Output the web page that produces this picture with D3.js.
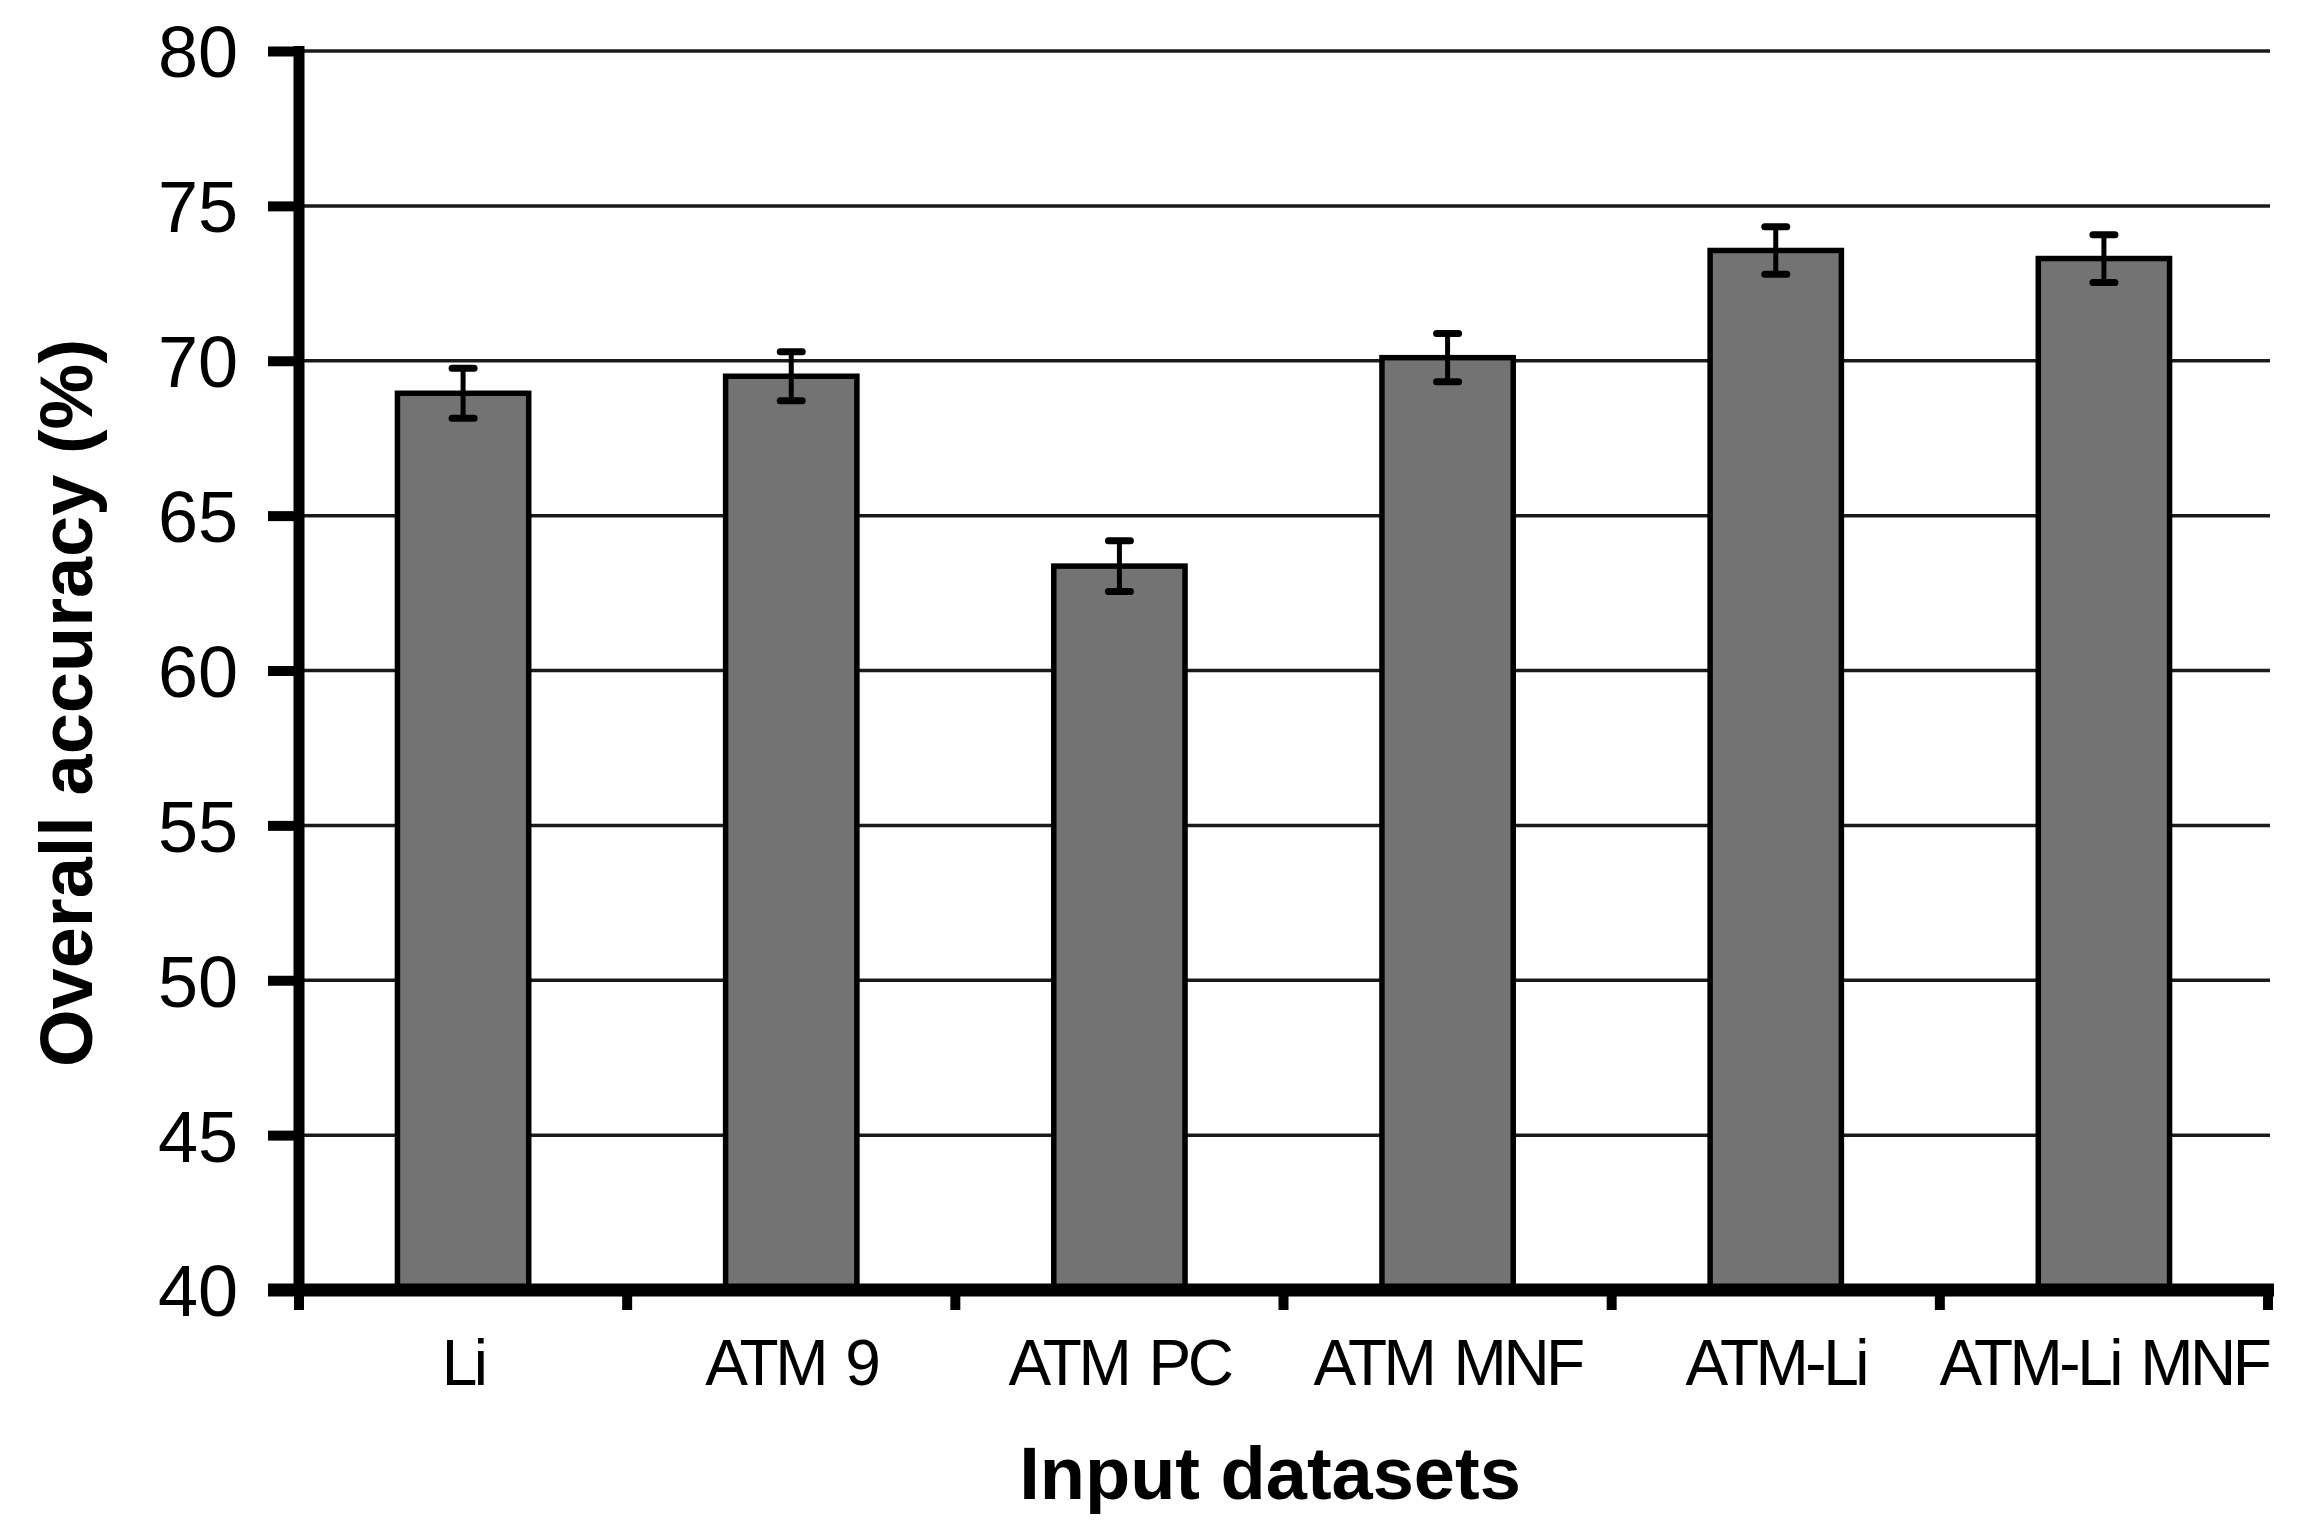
<!DOCTYPE html>
<html>
<head>
<meta charset="utf-8">
<script src="https://cdn.jsdelivr.net/npm/d3@7"></script>
<style>
  html, body { margin: 0; padding: 0; background: #fff; }
  svg { display: block; }
</style>
</head>
<body>
<script>
const categories = ["Li", "ATM 9", "ATM PC", "ATM MNF", "ATM-Li", "ATM-Li MNF"];
const accuracy = [68.95, 69.5, 63.37, 70.1, 73.56, 73.3];
const errors = [0.81, 0.79, 0.82, 0.78, 0.77, 0.77];
const yTicks = [40, 45, 50, 55, 60, 65, 70, 75, 80];
const xTitle = "Input datasets";
const yTitle = "Overall accuracy (%)";

const W = 2304, H = 1532;
const mLeft = 299, mRight = 2268, mTop = 51, mBottom = 1290;

const svg = d3.select("body").append("svg").attr("width", W).attr("height", H);

const x = d3.scaleBand().domain(categories).range([mLeft, mRight]).paddingInner(0.6).paddingOuter(0.3);
const xb = d3.scaleLinear().domain([0, categories.length]).range([mLeft, mRight]);
const y = d3.scaleLinear().domain([40, 80]).range([mBottom, mTop]);

// gridlines
svg.append("g").selectAll("line").data(yTicks.filter(d => d > 40)).join("line")
  .attr("x1", mLeft).attr("x2", mRight + 2)
  .attr("y1", d => y(d)).attr("y2", d => y(d))
  .attr("stroke", "#1a1a1a").attr("stroke-width", 3.5);

// bars
svg.append("g").selectAll("rect").data(categories).join("rect")
  .attr("x", d => x(d)).attr("width", x.bandwidth())
  .attr("y", (d, i) => y(accuracy[i]))
  .attr("height", (d, i) => y(40) - y(accuracy[i]))
  .attr("fill", "#737373").attr("stroke", "#000").attr("stroke-width", 5.5);

// error bars
const eb = svg.append("g").selectAll("g").data(categories).join("g");
eb.append("line")
  .attr("x1", d => x(d) + x.bandwidth() / 2).attr("x2", d => x(d) + x.bandwidth() / 2)
  .attr("y1", (d, i) => y(accuracy[i] + errors[i])).attr("y2", (d, i) => y(accuracy[i] - errors[i]))
  .attr("stroke", "#000").attr("stroke-width", 5);
[1, -1].forEach(s => {
  eb.append("line")
    .attr("x1", d => x(d) + x.bandwidth() / 2 - 11).attr("x2", d => x(d) + x.bandwidth() / 2 + 11)
    .attr("y1", (d, i) => y(accuracy[i] + s * errors[i])).attr("y2", (d, i) => y(accuracy[i] + s * errors[i]))
    .attr("stroke", "#000").attr("stroke-width", 7).attr("stroke-linecap", "round");
});

// y axis
const yAxis = d3.axisLeft(y).tickValues(yTicks).tickSize(31).tickPadding(30).tickFormat(d3.format("d"));
const gy = svg.append("g").attr("transform", `translate(${mLeft},0)`).call(yAxis);
gy.select(".domain").remove();
gy.selectAll(".tick line").attr("stroke", "#000").attr("stroke-width", 10);
gy.selectAll(".tick text").attr("font-family", "Liberation Sans, Arial, sans-serif")
  .attr("font-size", 72).attr("fill", "#000").attr("dy", "0.36em");
svg.append("line").attr("x1", mLeft).attr("x2", mLeft).attr("y1", mTop - 5).attr("y2", mBottom + 6)
  .attr("stroke", "#000").attr("stroke-width", 11);

// x axis line
svg.append("line").attr("x1", mLeft - 31).attr("x2", mRight + 6).attr("y1", mBottom).attr("y2", mBottom)
  .attr("stroke", "#000").attr("stroke-width", 13);
// x boundary ticks
svg.append("g").selectAll("line").data(d3.range(categories.length + 1)).join("line")
  .attr("x1", d => xb(d)).attr("x2", d => xb(d))
  .attr("y1", mBottom).attr("y2", mBottom + 20)
  .attr("stroke", "#000").attr("stroke-width", 10);

// x labels
const xAxis = d3.axisBottom(x).tickSize(0).tickPadding(0);
const gx = svg.append("g").attr("transform", `translate(0,${mBottom})`).call(xAxis);
gx.select(".domain").remove();
gx.selectAll(".tick text").attr("font-family", "Liberation Sans, Arial, sans-serif")
  .attr("font-size", 64).attr("letter-spacing", "-3.5px").attr("word-spacing", "6px").attr("fill", "#000")
  .attr("y", 95).attr("dy", 0);

// titles
svg.append("text").attr("x", 1270).attr("y", 1499).attr("text-anchor", "middle")
  .attr("font-family", "Liberation Sans, Arial, sans-serif").attr("font-weight", "bold")
  .attr("font-size", 74).attr("fill", "#000").text(xTitle);
svg.append("text").attr("transform", "translate(92,703) rotate(-90)").attr("text-anchor", "middle")
  .attr("font-family", "Liberation Sans, Arial, sans-serif").attr("font-weight", "bold")
  .attr("font-size", 74).attr("fill", "#000").text(yTitle);
</script>
</body>
</html>
